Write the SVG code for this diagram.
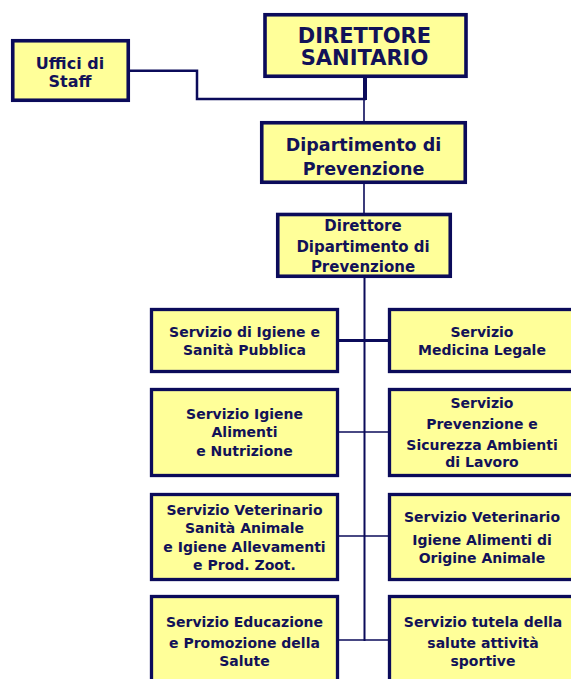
<svg xmlns="http://www.w3.org/2000/svg" width="571" height="679" viewBox="0 0 571 679">
<style>
.box{fill:#ffff99;stroke:#0b0b5a;stroke-width:3.3}
.big{stroke-width:3.6}
text{font-family:"DejaVu Sans","Liberation Sans",sans-serif;font-weight:bold;fill:#121258;text-anchor:middle}
.s{font-size:14px}
.ln{fill:none;stroke:#0b0b5a}
</style>
<rect width="571" height="679" fill="#ffffff"/>
<g id="connectors">
<polyline class="ln" stroke-width="2.5" points="130,70.7 197,70.7 197,99 366,99"/>
<line class="ln" stroke-width="4" x1="365" y1="77" x2="365" y2="100"/>
<line class="ln" stroke-width="1.6" x1="364" y1="99" x2="364" y2="122"/>
<line class="ln" stroke-width="1.6" x1="364" y1="183" x2="364" y2="214"/>
<line class="ln" stroke-width="2" x1="364.5" y1="277" x2="364.5" y2="641"/>
<line class="ln" stroke-width="2.8" x1="338" y1="340.5" x2="389" y2="340.5"/>
<line class="ln" stroke-width="1.6" x1="338" y1="432" x2="389" y2="432"/>
<line class="ln" stroke-width="1.6" x1="338" y1="536" x2="389" y2="536"/>
<line class="ln" stroke-width="1.6" x1="338" y1="640" x2="389" y2="640"/>
</g>
<g id="staff">
<rect class="box big" x="12.75" y="40.75" width="115.5" height="59.5"/>
<text x="70" y="69" font-size="16">Uffici di</text>
<text x="70" y="86.7" font-size="16">Staff</text>
</g>
<g id="direttore-sanitario">
<rect class="box big" x="265" y="14.75" width="201" height="61.5" stroke-width="4"/>
<text x="364.5" y="42.7" font-size="21">DIRETTORE</text>
<text x="364.5" y="65" font-size="21">SANITARIO</text>
</g>
<g id="dipartimento">
<rect class="box big" x="261.75" y="122.75" width="203.5" height="59.5"/>
<text x="363.5" y="151" font-size="17.5">Dipartimento di</text>
<text x="363.5" y="175" font-size="17.5">Prevenzione</text>
</g>
<g id="direttore-dipartimento">
<rect class="box big" x="277.75" y="214.5" width="172.5" height="61.75"/>
<text x="363" y="230.7" font-size="15">Direttore</text>
<text x="363" y="252" font-size="15">Dipartimento di</text>
<text x="363" y="271.7" font-size="15">Prevenzione</text>
</g>
<g id="igiene-sanita-pubblica">
<rect class="box" x="151.5" y="309.5" width="186" height="62"/>
<text class="s" x="244.5" y="336.7">Servizio di Igiene e</text>
<text class="s" x="244.5" y="355">Sanità Pubblica</text>
</g>
<g id="medicina-legale">
<rect class="box" x="389.5" y="309.5" width="186" height="62"/>
<text class="s" x="482" y="336.7">Servizio</text>
<text class="s" x="482" y="355">Medicina Legale</text>
</g>
<g id="igiene-alimenti">
<rect class="box" x="151.5" y="389.5" width="186" height="86"/>
<text class="s" x="244.5" y="419.3">Servizio Igiene</text>
<text class="s" x="244.5" y="437.3">Alimenti</text>
<text class="s" x="244.5" y="456">e Nutrizione</text>
</g>
<g id="prevenzione-sicurezza">
<rect class="box" x="389.5" y="389.5" width="186" height="86"/>
<text class="s" x="482" y="408.3">Servizio</text>
<text class="s" x="482" y="429">Prevenzione e</text>
<text class="s" x="482" y="449.5">Sicurezza Ambienti</text>
<text class="s" x="482" y="467.3">di Lavoro</text>
</g>
<g id="veterinario-sanita-animale">
<rect class="box" x="151.5" y="494.5" width="186" height="85"/>
<text class="s" x="244.5" y="515">Servizio Veterinario</text>
<text class="s" x="244.5" y="533.3">Sanità Animale</text>
<text class="s" x="244.5" y="552.3">e Igiene Allevamenti</text>
<text class="s" x="244.5" y="570">e Prod. Zoot.</text>
</g>
<g id="veterinario-igiene-alimenti">
<rect class="box" x="389.5" y="494.5" width="186" height="85"/>
<text class="s" x="482" y="521.7">Servizio Veterinario</text>
<text class="s" x="482" y="545">Igiene Alimenti di</text>
<text class="s" x="482" y="562.7">Origine Animale</text>
</g>
<g id="educazione-promozione">
<rect class="box" x="151.5" y="596.5" width="186" height="95"/>
<text class="s" x="244.5" y="626.7">Servizio Educazione</text>
<text class="s" x="244.5" y="648.3">e Promozione della</text>
<text class="s" x="244.5" y="666">Salute</text>
</g>
<g id="tutela-salute-sportive">
<rect class="box" x="389.5" y="596.5" width="186" height="95"/>
<text class="s" x="483" y="626.7">Servizio tutela della</text>
<text class="s" x="483" y="648.3">salute attività</text>
<text class="s" x="483" y="666">sportive</text>
</g>
</svg>
